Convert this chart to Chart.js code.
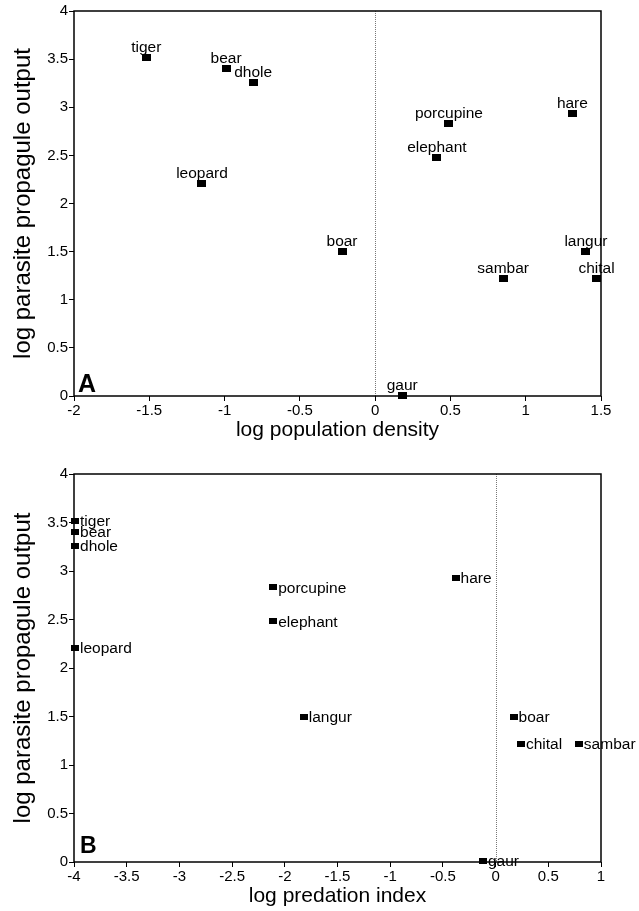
<!DOCTYPE html>
<html>
<head>
<meta charset="utf-8">
<script src="https://cdn.jsdelivr.net/npm/chart.js@4.4.0/dist/chart.umd.min.js"></script>
<style>
body{margin:0;background:#fff;}
canvas{display:block;}
</style>
</head>
<body>
<canvas id="chartA" width="639" height="445"></canvas>
<canvas id="chartB" width="639" height="466"></canvas>
<script>
// species and values
const species = ['tiger','bear','dhole','leopard','boar','porcupine','elephant','hare','langur','sambar','chital','gaur'];
const logPropagule = [3.52, 3.40, 3.26, 2.21, 1.50, 2.83, 2.48, 2.93, 1.50, 1.22, 1.22, 0.01];
const logDensity = [-1.52, -0.99, -0.81, -1.15, -0.22, 0.49, 0.41, 1.31, 1.40, 0.85, 1.47, 0.18];
const logPredation = [-3.99, -3.99, -3.99, -3.99, 0.17, -2.11, -2.11, -0.38, -1.82, 0.79, 0.24, -0.12];

const yTicks = [0, 0.5, 1, 1.5, 2, 2.5, 3, 3.5, 4];
const xTicksA = [-2, -1.5, -1, -0.5, 0, 0.5, 1, 1.5];
const xTicksB = [-4, -3.5, -3, -2.5, -2, -1.5, -1, -0.5, 0, 0.5, 1];

const FONT = "'Liberation Sans', Arial, Helvetica, sans-serif";

function markerCanvas(w, h){
    const c = document.createElement('canvas');
    c.width = w; c.height = h;
    const g = c.getContext('2d');
    g.fillStyle = '#000';
    g.fillRect(0, 0, w, h);
    return c;
}

// frame, zero line, point labels and panel letter
const panelPlugin = {
    id: 'panel',
    afterDatasetsDraw(chart, args, opts){
        const ctx = chart.ctx;
        const a = chart.chartArea;
        const x0 = chart.scales.x.getPixelForValue(0);
        ctx.save();
        ctx.strokeStyle = '#777';
        ctx.lineWidth = 1;
        ctx.setLineDash([1, 1]);
        ctx.beginPath();
        ctx.moveTo(Math.round(x0) + 0.5, a.top);
        ctx.lineTo(Math.round(x0) + 0.5, a.bottom);
        ctx.stroke();
        ctx.setLineDash([]);
        ctx.strokeStyle = '#000';
        ctx.lineWidth = 1.5;
        ctx.strokeRect(a.left, a.top, a.right - a.left, a.bottom - a.top);

        ctx.fillStyle = '#000';
        ctx.font = '15.5px ' + FONT;
        const meta = chart.getDatasetMeta(0);
        meta.data.forEach((pt, i) => {
            if (opts.place === 'above') {
                ctx.textAlign = 'center';
                ctx.textBaseline = 'alphabetic';
                ctx.fillText(opts.names[i], pt.x, pt.y - 5.5);
            } else {
                ctx.textAlign = 'left';
                ctx.textBaseline = 'middle';
                ctx.fillText(opts.names[i], pt.x + 5, pt.y + 1);
            }
        });

        ctx.font = 'bold ' + opts.letterSize + 'px ' + FONT;
        ctx.textAlign = 'left';
        ctx.textBaseline = 'alphabetic';
        ctx.fillText(opts.letter, a.left + opts.letterDx, a.bottom - opts.letterDy);
        ctx.restore();
    }
};

function makeChart(id, xs, xTicks, xTitle, panel, padTop, marker){
    const points = [];
    for (let i = 0; i < species.length; i++) {
        points.push({x: xs[i], y: logPropagule[i]});
    }
    const data = {
        datasets: [{
            data: points,
            pointStyle: marker,
            pointRadius: 5,
            clip: false,
        }]
    };
    const config = {
        type: 'scatter',
        data: data,
        options: {
            responsive: false,
            animation: false,
            layout: { padding: { left: 0, top: padTop, right: 38, bottom: 0 } },
            plugins: {
                legend: { display: false },
                tooltip: { enabled: false },
                panel: Object.assign({ names: species }, panel),
            },
            scales: {
                x: {
                    type: 'linear',
                    min: xTicks[0],
                    max: xTicks[xTicks.length - 1],
                    afterBuildTicks: s => { s.ticks = xTicks.map(v => ({value: v})); },
                    afterFit: s => { s.height = 49; },
                    border: { display: false },
                    grid: { drawOnChartArea: false, color: '#000', tickLength: 5, lineWidth: 1 },
                    ticks: { color: '#000', padding: 1, maxRotation: 0, font: { family: FONT, size: 15 },
                             callback: v => String(v) },
                    title: { display: true, text: xTitle, color: '#000', padding: { top: 0, bottom: 2 }, font: { family: FONT, size: 21 } },
                },
                y: {
                    type: 'linear',
                    min: 0,
                    max: 4,
                    afterBuildTicks: s => { s.ticks = yTicks.map(v => ({value: v})); },
                    afterFit: s => { s.width = 74; },
                    border: { display: false },
                    grid: { drawOnChartArea: false, color: '#000', tickLength: 5, lineWidth: 1 },
                    ticks: { color: '#000', padding: 1, font: { family: FONT, size: 15 },
                             callback: v => String(v) },
                    title: { display: true, text: 'log parasite propagule output', color: '#000', padding: { top: 9, bottom: 0 }, font: { family: FONT, size: 24 } },
                }
            }
        },
        plugins: [panelPlugin]
    };
    return new Chart(document.getElementById(id), config);
}

makeChart('chartA', logDensity, xTicksA, 'log population density',
    { letter: 'A', place: 'above', letterSize: 25, letterDx: 4, letterDy: 4 }, 11, markerCanvas(9, 7));
makeChart('chartB', logPredation, xTicksB, 'log predation index',
    { letter: 'B', place: 'right', letterSize: 23, letterDx: 6, letterDy: 9 }, 29, markerCanvas(8, 6));
</script>
</body>
</html>
